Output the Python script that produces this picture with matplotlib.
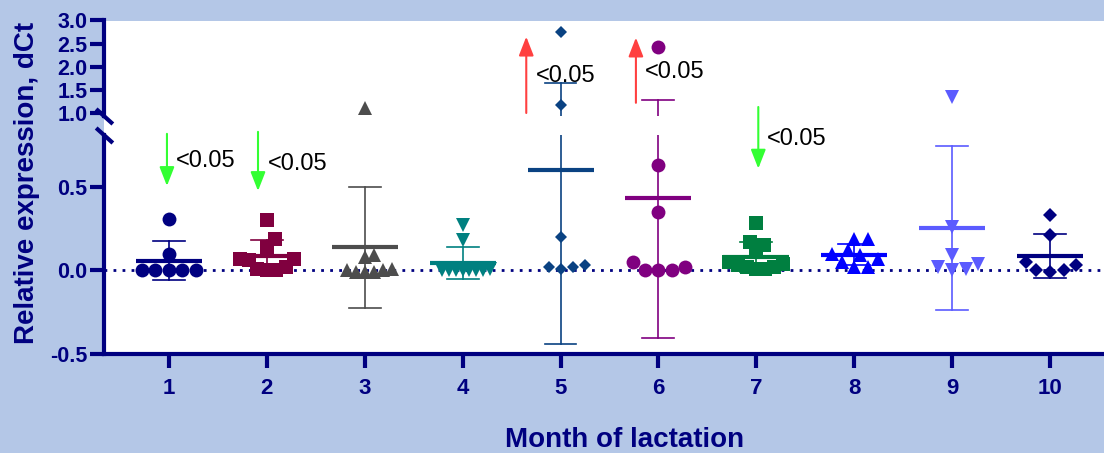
import numpy as np
import matplotlib.pyplot as plt
from matplotlib.patches import Rectangle

# relative expression (dCt) per month of lactation
months = [1, 2, 3, 4, 5, 6, 7, 8, 9, 10]
m1 = [0.31, 0.10, 0.0, 0.0, 0.0, 0.0, 0.0]
m2 = [0.30, 0.19, 0.14, 0.07, 0.07, 0.06, 0.02, 0.01, 0.0, 0.0]
m3 = [1.10, 0.09, 0.08, 0.01, 0.0, 0.0, -0.01, -0.01, -0.01]
m4 = [0.27, 0.18, 0.01, 0.0, 0.0, 0.0, 0.0, 0.0, 0.0, 0.0]
m5 = [2.76, 1.17, 0.20, 0.03, 0.02, 0.02, 0.01]
m6 = [2.43, 0.63, 0.35, 0.05, 0.02, 0.0, 0.0, 0.0]
m7 = [0.285, 0.17, 0.15, 0.11, 0.05, 0.04, 0.03, 0.02, 0.02, 0.01, 0.01]
m8 = [0.19, 0.19, 0.12, 0.10, 0.09, 0.07, 0.05, 0.02, 0.02]
m9 = [1.35, 0.26, 0.09, 0.04, 0.02, 0.01, 0.0]
m10 = [0.335, 0.21, 0.05, 0.03, 0.0, 0.0, -0.01]
groups = [m1, m2, m3, m4, m5, m6, m7, m8, m9, m10]

colors = ['#000080', '#80003F', '#4D4D4D', '#008080', '#0A4282',
          '#800080', '#007F40', '#0000FF', '#5B5BFF', '#000080']
markers = ['o', 's', '^', 'v', 'D', 'o', 's', '^', 'v', 'D']
msizes = [10, 10, 9.5, 9.5, 6.2, 10, 10, 9.5, 9.5, 7.1]

# significance arrows: month, direction, p-value label
sig_months = [1, 2, 5, 6, 7]
sig_dirs = ['down', 'down', 'up', 'up', 'down']
sig_labels = ['<0.05', '<0.05', '<0.05', '<0.05', '<0.05']

navy = '#000080'
bg = '#B4C7E7'
W, H = 1104, 453

fig = plt.figure(figsize=(W / 100, H / 100), dpi=100, facecolor=bg)


def px_axes(left, top, right, bottom):
    return fig.add_axes([left / W, 1 - bottom / H, (right - left) / W, (bottom - top) / H])


ax_up = px_axes(104, 20.5, W, 116)
ax_lo = px_axes(104, 135, W, 354)
fig.add_artist(Rectangle((104 / W, 1 - 354 / H), (W - 104) / W, (354 - 20.5) / H,
                         transform=fig.transFigure, facecolor='white',
                         edgecolor='none', zorder=-5))

xlim = (0.337, 10.551)
split = 0.87
for ax in (ax_up, ax_lo):
    ax.set_facecolor('none')
    ax.set_xlim(*xlim)
    for s in ('top', 'right'):
        ax.spines[s].set_visible(False)
    for s in ('left', 'bottom'):
        ax.spines[s].set_color(navy)
        ax.spines[s].set_linewidth(3)
    ax.tick_params(direction='out', length=10, width=3, color=navy,
                   labelcolor=navy, labelsize=15, pad=2)

ax_up.set_ylim(0.935, 3.0)
ax_lo.set_ylim(-0.5, 0.811)
ax_up.spines['bottom'].set_visible(False)
ax_up.set_xticks([])
ax_up.set_yticks([1.0, 1.5, 2.0, 2.5, 3.0])
ax_lo.set_yticks([-0.5, 0.0, 0.5])
for ax in (ax_up, ax_lo):
    ax.set_yticklabels([f'{t:.1f}' for t in ax.get_yticks()],
                       fontweight='bold', fontfamily='Liberation Sans', fontsize=15.5)
ax_lo.set_xticks(months)
ax_lo.set_xticklabels([str(m) for m in months], fontweight='bold', fontsize=16,
                      family='Liberation Sans')
ax_lo.tick_params(axis='x', pad=7)

# axis break marks
kw = dict(marker=[(-1, 0.9), (1, -0.9)], markersize=12, linestyle='none',
          color=navy, mec=navy, mew=3, clip_on=False)
ax_up.plot([0], [0], transform=ax_up.transAxes, **kw)
ax_lo.plot([0], [1], transform=ax_lo.transAxes, **kw)

# dotted zero line
ax_lo.axhline(0, color=navy, lw=2, ls=(0, (1, 2.25)), zorder=1)


def to_px(v):
    ax = ax_up if v > split else ax_lo
    return ax.transData.transform((1, v))[1]


px_per_x = ax_lo.transData.transform((1, 0))[0] - ax_lo.transData.transform((0, 0))[0]


def swarm(vals, mind, limit=27.0, step=2.0):
    py = np.array([to_px(v) for v in vals])
    offs = np.zeros(len(vals))
    placed = []
    for i in np.argsort(py):
        k = 0
        while True:
            mag = (k + 1) // 2
            cand = mag * step * (1 if k % 2 else -1)
            if all(np.hypot(cand - ox, py[i] - oy) >= mind for ox, oy in placed):
                break
            k += 1
        offs[i] = cand
        placed.append((cand, py[i]))
    widest = np.abs(offs).max()
    if widest > limit:
        offs = offs * limit / widest
    return offs / px_per_x


for m, vals, c, mk, ms in zip(months, groups, colors, markers, msizes):
    vals = np.array(vals)
    mean = vals.mean()
    sd = vals.std(ddof=1)
    size_px = ms * 100 / 72 * (1.35 if mk == 'D' else 1.0)
    xs = m + swarm(vals, mind=size_px * 0.95)
    for ax in (ax_up, ax_lo):
        ax.plot([m, m], [mean - sd, mean + sd], color=c, lw=1.2, zorder=2)
        ax.plot([m - 0.163, m + 0.163], [mean + sd, mean + sd], color=c, lw=1.2, zorder=2)
        ax.plot([m - 0.163, m + 0.163], [mean - sd, mean - sd], color=c, lw=1.2, zorder=2)
        ax.plot([m - 0.337, m + 0.337], [mean, mean], color=c, lw=3, zorder=2,
                solid_capstyle='butt')
        ax.plot(xs, vals, linestyle='none', marker=mk, markersize=ms,
                color=c, mew=0, zorder=3)

# significance arrows and labels (arrow offset, tail, tip, label position)
arrow_specs = {
    1: (-0.02, (ax_lo, 0.818), (ax_lo, 0.506), (0.071, ax_lo, 0.655)),
    2: (-0.09, (ax_lo, 0.830), (ax_lo, 0.476), (0.007, ax_lo, 0.637)),
    5: (-0.35, (ax_up, 1.00), (ax_up, 2.65), (-0.255, ax_up, 1.80)),
    6: (-0.23, (ax_up, 1.22), (ax_up, 2.63), (-0.143, ax_up, 1.89)),
    7: (0.02, (ax_up, 1.13), (ax_lo, 0.61), (0.112, ax_lo, 0.787)),
}
for m, d, lab in zip(sig_months, sig_dirs, sig_labels):
    dx, (tax, ty), (hax, hy), (lx, lax, ly) = arrow_specs[m]
    col = '#33FF33' if d == 'down' else '#FF4040'
    hax.annotate('', xy=(m + dx, hy), xycoords=hax.transData,
                 xytext=(m + dx, ty), textcoords=tax.transData,
                 arrowprops=dict(arrowstyle='-|>,head_length=1.15,head_width=0.45',
                                 color=col, lw=1.5, shrinkA=0, shrinkB=0),
                 annotation_clip=False)
    lax.text(m + lx, ly, lab, ha='left', va='center', fontsize=17,
             color='black', family='Liberation Sans')

fig.text(27 / W, 1 - 183 / H, 'Relative expression, dCt', rotation=90,
         ha='center', va='center', fontsize=20, fontweight='bold', color=navy,
         family='Liberation Sans')
fig.text(625 / W, 1 - 440 / H, 'Month of lactation', ha='center', va='center',
         fontsize=20, fontweight='bold', color=navy, family='Liberation Sans')

fig.savefig('out.png', dpi=100, facecolor=bg)
